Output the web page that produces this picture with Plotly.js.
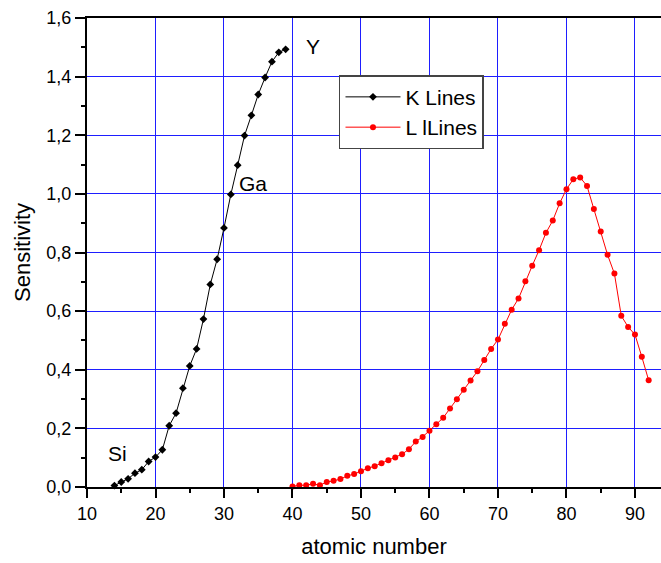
<!DOCTYPE html>
<html>
<head>
<meta charset="utf-8">
<script src="https://cdn.plot.ly/plotly-3.0.1.min.js"></script>
<style>html,body{margin:0;padding:0;background:#fff;}#chart{width:661px;height:563px;}</style>
</head>
<body>
<div id="chart"></div>
<script>
var kZ = [14,15,16,17,18,19,20,21,22,23,24,25,26,27,28,29,30,31,32,33,34,35,36,37,38,39];
var kS = [0.005,0.017,0.028,0.047,0.059,0.087,0.102,0.127,0.209,0.252,0.337,0.413,0.471,0.573,0.691,0.777,0.884,0.998,1.098,1.199,1.268,1.339,1.397,1.451,1.483,1.493];
var lZ = [40,41,42,43,44,45,46,47,48,49,50,51,52,53,54,55,56,57,58,59,60,61,62,63,64,65,66,67,68,69,70,71,72,73,74,75,76,77,78,79,80,81,82,83,84,85,86,87,88,89,90,91,92];
var lS = [0.002,0.006,0.006,0.011,0.006,0.017,0.021,0.027,0.038,0.044,0.054,0.064,0.071,0.081,0.091,0.101,0.112,0.129,0.155,0.171,0.192,0.214,0.236,0.268,0.299,0.332,0.363,0.395,0.433,0.471,0.503,0.557,0.605,0.643,0.702,0.755,0.808,0.867,0.909,0.968,1.016,1.050,1.056,1.027,0.948,0.872,0.792,0.728,0.584,0.546,0.520,0.444,0.364];
var seriesNames = ["K Lines", "L lLines"];
var labelText = ["Y", "Ga", "Si"];
var labelX = [43.0, 34.3, 14.4];
var labelY = [1.503, 1.036, 0.113];

var font = "Liberation Sans, Arial, sans-serif";
var traces = [
  {x: kZ, y: kS, name: seriesNames[0], type: "scatter", mode: "lines+markers",
   line: {color: "#000000", width: 1}, marker: {symbol: "diamond", size: 6, color: "#000000"}, cliponaxis: false},
  {x: lZ, y: lS, name: seriesNames[1], type: "scatter", mode: "lines+markers",
   line: {color: "#ff0000", width: 1}, marker: {symbol: "circle", size: 6, color: "#ff0000"}, cliponaxis: false}
];
var annotations = labelText.map(function (t, i) {
  return {x: labelX[i], y: labelY[i], xref: "x", yref: "y", text: t, showarrow: false,
          font: {family: font, size: 21, color: "#000"}};
});
var layout = {
  width: 661, height: 563,
  margin: {l: 87, r: 0, t: 18, b: 76},
  paper_bgcolor: "#fff", plot_bgcolor: "#fff",
  separators: ", ",
  font: {family: font, color: "#000"},
  showlegend: true,
  legend: {x: 0.439, y: 0.878, xanchor: "left", yanchor: "top", bgcolor: "#fff",
           bordercolor: "#444", borderwidth: 1.5, font: {family: font, size: 21, color: "#000"},
           itemwidth: 55, tracegroupgap: 0},
  xaxis: {range: [10, 93.8], tickmode: "linear", tick0: 10, dtick: 10,
          ticks: "outside", ticklen: 9, tickwidth: 2, tickcolor: "#000",
          showline: true, linecolor: "#000", linewidth: 2, mirror: true,
          showgrid: true, gridcolor: "rgb(30,30,255)", gridwidth: 1, zeroline: false,
          minor: {dtick: 5, ticks: "outside", ticklen: 4, tickwidth: 2, tickcolor: "#000", showgrid: false},
          tickfont: {family: font, size: 18, color: "#000"},
          title: {text: "atomic number", font: {family: font, size: 22, color: "#000"}, standoff: 16}},
  yaxis: {range: [0, 1.6], tickmode: "linear", tick0: 0, dtick: 0.2, tickformat: ".1f",
          ticks: "outside", ticklen: 10, tickwidth: 2, tickcolor: "#000",
          showline: true, linecolor: "#000", linewidth: 2, mirror: false,
          showgrid: true, gridcolor: "rgb(30,30,255)", gridwidth: 1, zeroline: false,
          minor: {dtick: 0.1, ticks: "outside", ticklen: 4, tickwidth: 2, tickcolor: "#000", showgrid: false},
          tickfont: {family: font, size: 18, color: "#000"},
          title: {text: "Sensitivity", font: {family: font, size: 22, color: "#000"}, standoff: 10}},
  annotations: annotations
};
Plotly.newPlot("chart", traces, layout, {staticPlot: true, displayModeBar: false});
</script>
</body>
</html>
